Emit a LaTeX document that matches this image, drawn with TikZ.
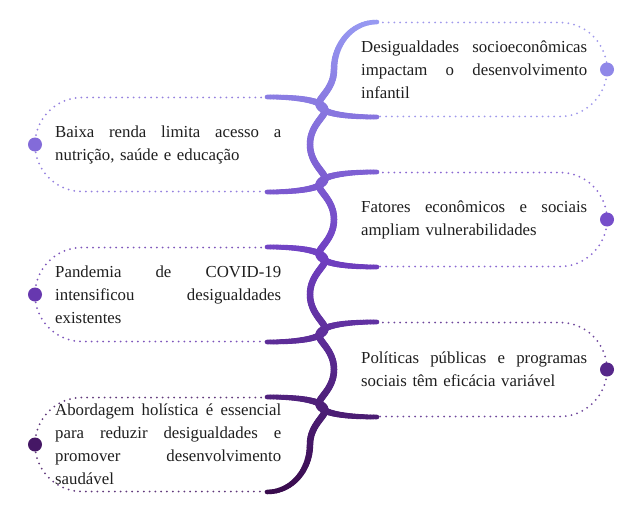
\documentclass[tikz,border=0pt]{standalone}
\usepackage{fontspec}
\setmainfont{Liberation Serif}
\definecolor{ctop}{HTML}{9799F2}
\definecolor{cmid}{HTML}{7040C2}
\definecolor{cbot}{HTML}{3A0C4E}
\newcommand{\mygradcol}[2]{%
  \pgfmathsetmacro{\gp}{max(0,min(100,((#1)-22)/470*100))}%
  \pgfmathtruncatemacro{\glo}{\gp<50}%
  \ifnum\glo=1 \pgfmathsetmacro{\gq}{2*\gp}\colorlet{#2}{cmid!\gq!ctop}%
  \else \pgfmathsetmacro{\gq}{2*\gp-100}\colorlet{#2}{cbot!\gq!cmid}\fi}
% cubic Bezier in pixel coordinates (y down), drawn in gradient segments,
% line width tapering from \wa (start) to \wb (end)
\def\wa{6}\def\wb{6}
\newcommand{\gradbez}[8]{%
  \foreach \n in {0,...,23}{%
    \pgfmathsetmacro{\ta}{\n/24}%
    \pgfmathsetmacro{\tb}{(\n+1)/24}%
    \pgfmathsetmacro{\xa}{(1-\ta)^3*(#1)+3*(1-\ta)^2*\ta*(#3)+3*(1-\ta)*\ta^2*(#5)+\ta^3*(#7)}%
    \pgfmathsetmacro{\ya}{(1-\ta)^3*(#2)+3*(1-\ta)^2*\ta*(#4)+3*(1-\ta)*\ta^2*(#6)+\ta^3*(#8)}%
    \pgfmathsetmacro{\xb}{(1-\tb)^3*(#1)+3*(1-\tb)^2*\tb*(#3)+3*(1-\tb)*\tb^2*(#5)+\tb^3*(#7)}%
    \pgfmathsetmacro{\yb}{(1-\tb)^3*(#2)+3*(1-\tb)^2*\tb*(#4)+3*(1-\tb)*\tb^2*(#6)+\tb^3*(#8)}%
    \pgfmathsetmacro{\lw}{\wa+(\wb-\wa)*(\n+0.5)/24}%
    \mygradcol{(\ya+\yb)/2}{segc}%
    \draw[spine, segc, line width=\lw pt] (\xa,507-\ya) -- (\xb,507-\yb);
  }}
\newcommand{\jl}[1]{\leavevmode\hbox to 226pt{#1}}
\tikzset{
  spine/.style={line width=6.5pt, line cap=round},
  dotline/.style={line width=2pt, line cap=round, dash pattern=on 0pt off 5.8pt},
  enddot/.style={circle, inner sep=0pt, minimum size=14pt},
  itemtext/.style={anchor=west, text width=226pt, inner sep=0pt, align=left,
    font=\fontsize{16.8}{23}\selectfont, text=black!88}
}
\begin{document}
\begin{tikzpicture}[x=1pt,y=1pt]
\useasboundingbox (0,0) rectangle (644,507);
\fill[white] (0,0) rectangle (644,507);
% dotted outlines and end dots
\foreach \i in {1,...,6}{
  \pgfmathsetmacro{\yc}{437.5-75*(\i-1)}
  \pgfmathsetmacro{\ypx}{507-\yc}
  \mygradcol{\ypx}{itc}
  \pgfmathtruncatemacro{\odd}{mod(\i,2)}
  \ifnum\odd=1
    \draw[dotline, itc!85!white] (377,\yc+47) -- (560,\yc+47)
      arc[start angle=90, end angle=-90, radius=47] -- (377,\yc-47);
    \node[enddot, fill=itc] (dot\i) at (607,\yc) {};
  \else
    \draw[dotline, itc!85!white] (267,\yc+47) -- (82,\yc+47)
      arc[start angle=90, end angle=270, radius=47] -- (267,\yc-47);
    \node[enddot, fill=itc] (dot\i) at (35,\yc) {};
  \fi
}
% C-shaped arcs (pixel coordinates, y down)
\def\wa{4.5}\def\wb{6.5}
\gradbez{377}{22}{352}{22}{334}{44}{334}{69.5}
\def\wa{6.5}\def\wb{4.5}
\gradbez{310}{444.5}{310}{470}{292}{492}{267}{492}
% right items: lower halves
\foreach \yc in {69.5,219.5,369.5}{
  \def\wa{6.5}\def\wb{7}
  \gradbez{334}{\yc}{334}{\yc+22}{314}{\yc+30}{320}{\yc+37.5}
  \def\wa{7}\def\wb{4.5}
  \gradbez{320}{\yc+37.5}{326}{\yc+45}{350}{\yc+47.5}{377}{\yc+47.5}
}
% right items: upper halves
\foreach \yc in {219.5,369.5}{
  \def\wa{4.5}\def\wb{7}
  \gradbez{377}{\yc-47.5}{350}{\yc-47.5}{326}{\yc-45}{320}{\yc-37.5}
  \def\wa{7}\def\wb{6.5}
  \gradbez{320}{\yc-37.5}{314}{\yc-30}{334}{\yc-22}{334}{\yc}
}
% left items: upper halves
\foreach \yc in {144.5,294.5,444.5}{
  \def\wa{4.5}\def\wb{7}
  \gradbez{267}{\yc-47.5}{294}{\yc-47.5}{318}{\yc-45}{324}{\yc-37.5}
  \def\wa{7}\def\wb{6.5}
  \gradbez{324}{\yc-37.5}{330}{\yc-30}{310}{\yc-22}{310}{\yc}
}
% left items: lower halves
\foreach \yc in {144.5,294.5}{
  \def\wa{6.5}\def\wb{7}
  \gradbez{310}{\yc}{310}{\yc+22}{330}{\yc+30}{324}{\yc+37.5}
  \def\wa{7}\def\wb{4.5}
  \gradbez{324}{\yc+37.5}{318}{\yc+45}{294}{\yc+47.5}{267}{\yc+47.5}
}
% junction blobs
\foreach \yj in {107,182,257,332,407}{
  \mygradcol{\yj}{segc}
  \fill[segc] (322,507-\yj) circle[radius=4.8];
}
% texts
\node[itemtext] (t1) at (361,437.5) {\jl{Desigualdades\hfill socioeconômicas}\\\jl{impactam\hfill o\hfill desenvolvimento}\\infantil};
\node[itemtext] (t2) at (55,362.5) {\jl{Baixa\hfill renda\hfill limita\hfill acesso\hfill a}\\nutrição, saúde e educação};
\node[itemtext] (t3) at (361,287.5) {\jl{Fatores\hfill econômicos\hfill e\hfill sociais}\\ampliam vulnerabilidades};
\node[itemtext] (t4) at (55,212.5) {\jl{Pandemia\hfill de\hfill COVID-19}\\\jl{intensificou\hfill desigualdades}\\existentes};
\node[itemtext] (t5) at (361,137.5) {\jl{Políticas\hfill públicas\hfill e\hfill programas}\\sociais têm eficácia variável};
\node[itemtext] (t6) at (55,62.5) {\jl{Abordagem\hfill holística\hfill é\hfill essencial}\\\jl{para\hfill reduzir\hfill desigualdades\hfill e}\\\jl{promover\hfill desenvolvimento}\\saudável};
\end{tikzpicture}
\end{document}
